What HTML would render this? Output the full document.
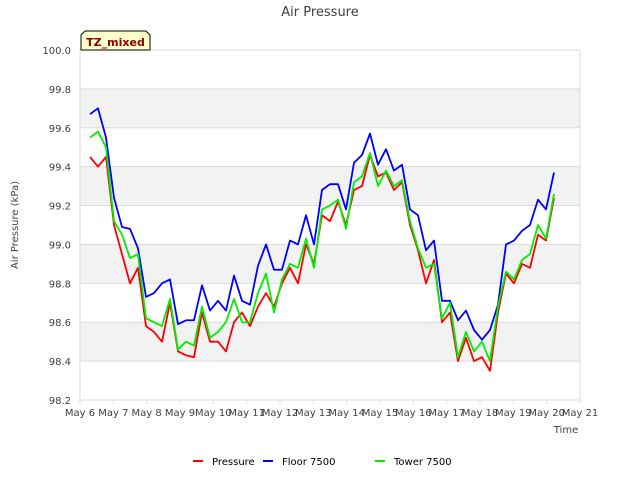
<!DOCTYPE html>
<html><head><meta charset="utf-8"><style>
body{margin:0;background:#fff;}
svg{display:block;font-family:"DejaVu Sans","Liberation Sans",sans-serif;}
</style></head><body>
<svg id="chart" width="640" height="480">
<rect x="0" y="0" width="640" height="480" fill="#fff"/>
<g id="bands"></g>
<g id="grid"></g>
<g id="axes"></g>
<g id="series"></g>
<text x="320" y="16" text-anchor="middle" font-size="13" fill="#404040">Air Pressure</text>
<text transform="translate(18,225) rotate(-90)" text-anchor="middle" font-size="10" fill="#404040">Air Pressure (kPa)</text>
<text x="566" y="433" text-anchor="middle" font-size="10" fill="#404040">Time</text>
<g>
<path d="M81,50 L81,35 L85,31 L146,31 L150,35 L150,50 Z" fill="#ffffcc" stroke="#000" stroke-width="1"/>
<text x="115.5" y="46" text-anchor="middle" font-size="11" font-weight="bold" fill="#8b0000">TZ_mixed</text>
</g>
<g>
<line x1="193" y1="461" x2="203" y2="461" stroke="#ff0000" stroke-width="2"/>
<text x="212" y="465" font-size="10" fill="#000">Pressure</text>
<line x1="263" y1="461" x2="273" y2="461" stroke="#0000ff" stroke-width="2"/>
<text x="282" y="465" font-size="10" fill="#000">Floor 7500</text>
<line x1="375" y1="461" x2="385" y2="461" stroke="#00ee00" stroke-width="2"/>
<text x="394" y="465" font-size="10" fill="#000">Tower 7500</text>
</g>
</svg>
<script>
const days=[6.3,6.54,6.78,7.02,7.26,7.5,7.74,7.98,8.22,8.46,8.7,8.94,9.18,9.42,9.66,9.9,10.14,10.38,10.62,10.86,11.1,11.34,11.58,11.82,12.06,12.3,12.54,12.78,13.02,13.26,13.5,13.74,13.98,14.22,14.46,14.7,14.94,15.18,15.42,15.66,15.9,16.14,16.38,16.62,16.86,17.1,17.34,17.58,17.82,18.06,18.3,18.54,18.78,19.02,19.26,19.5,19.74,19.98,20.22];
const floor=[99.67,99.70,99.55,99.24,99.09,99.08,98.98,98.73,98.75,98.80,98.82,98.59,98.61,98.61,98.79,98.66,98.71,98.66,98.84,98.71,98.69,98.89,99.00,98.87,98.87,99.02,99.00,99.15,99.00,99.28,99.31,99.31,99.18,99.42,99.46,99.57,99.41,99.49,99.38,99.41,99.18,99.15,98.97,99.02,98.71,98.71,98.61,98.66,98.56,98.51,98.56,98.69,99.00,99.02,99.07,99.10,99.23,99.18,99.37];
const pressure=[99.45,99.40,99.45,99.10,98.95,98.80,98.88,98.58,98.55,98.50,98.70,98.45,98.43,98.42,98.65,98.50,98.50,98.45,98.60,98.65,98.58,98.68,98.75,98.68,98.80,98.88,98.80,99.00,98.90,99.15,99.12,99.22,99.10,99.28,99.30,99.46,99.35,99.37,99.28,99.32,99.10,98.97,98.80,98.92,98.60,98.65,98.40,98.52,98.40,98.42,98.35,98.65,98.85,98.80,98.90,98.88,99.05,99.02,99.24];
const tower=[99.55,99.58,99.50,99.12,99.05,98.93,98.95,98.62,98.60,98.58,98.72,98.46,98.50,98.48,98.68,98.52,98.55,98.60,98.72,98.60,98.60,98.75,98.85,98.65,98.82,98.90,98.88,99.03,98.88,99.18,99.20,99.23,99.08,99.32,99.35,99.47,99.30,99.38,99.30,99.33,99.12,98.98,98.88,98.90,98.62,98.70,98.42,98.55,98.45,98.50,98.40,98.68,98.86,98.82,98.92,98.95,99.10,99.03,99.26];
const yTicks=[98.2,98.4,98.6,98.8,99.0,99.2,99.4,99.6,99.8,100.0];
const xTicks=[6,7,8,9,10,11,12,13,14,15,16,17,18,19,20,21];
const L=80,R=580,T=50,B=400,ymin=98.2,ymax=100,xmin=6,xmax=21;
const X=d=>L+(d-xmin)/(xmax-xmin)*(R-L);
const Y=v=>B-(v-ymin)/(ymax-ymin)*(B-T);
const NS='http://www.w3.org/2000/svg';
function mk(tag,attrs,parent){const e=document.createElementNS(NS,tag);for(const k in attrs)e.setAttribute(k,attrs[k]);parent.appendChild(e);return e;}
const bands=document.getElementById('bands'),grid=document.getElementById('grid'),axes=document.getElementById('axes'),series=document.getElementById('series');
for(let i=0;i<yTicks.length-1;i++){if(i%2===1){const r=mk('rect',{x:L,y:Y(yTicks[i+1]),width:R-L,height:Y(yTicks[i])-Y(yTicks[i+1]),fill:'#f2f2f2'},bands);

}}
yTicks.forEach(v=>{const y=Y(v);const g=mk('line',{x1:L,x2:R,y1:y,y2:y,stroke:'#dcdcdc','stroke-width':1},grid);


const t=mk('text',{x:L-9,y:y+4,'text-anchor':'end','font-size':10,fill:'#404040'},axes);t.textContent=v.toFixed(1);

});
xTicks.forEach(d=>{const x=X(d);const t=mk('text',{x:x,y:416,'text-anchor':'middle','font-size':10,fill:'#404040'},axes);t.textContent='May '+d;


const tk=mk('line',{x1:x,x2:x,y1:B,y2:B+4,stroke:'#dcdcdc'},axes);

});
const fr=mk('rect',{x:L,y:T,width:R-L,height:B-T,fill:'none',stroke:'#dcdcdc'},axes);


function line(vals,color,name){const p=mk('polyline',{points:vals.map((v,i)=>X(days[i])+','+Y(v)).join(' '),fill:'none',stroke:color,'stroke-width':1.8,'stroke-linejoin':'round'},series);

}
line(pressure,'#ff0000','pressure-line');
line(floor,'#0000ff','floor-7500-line');
line(tower,'#00ee00','tower-7500-line');
</script>
</body></html>
